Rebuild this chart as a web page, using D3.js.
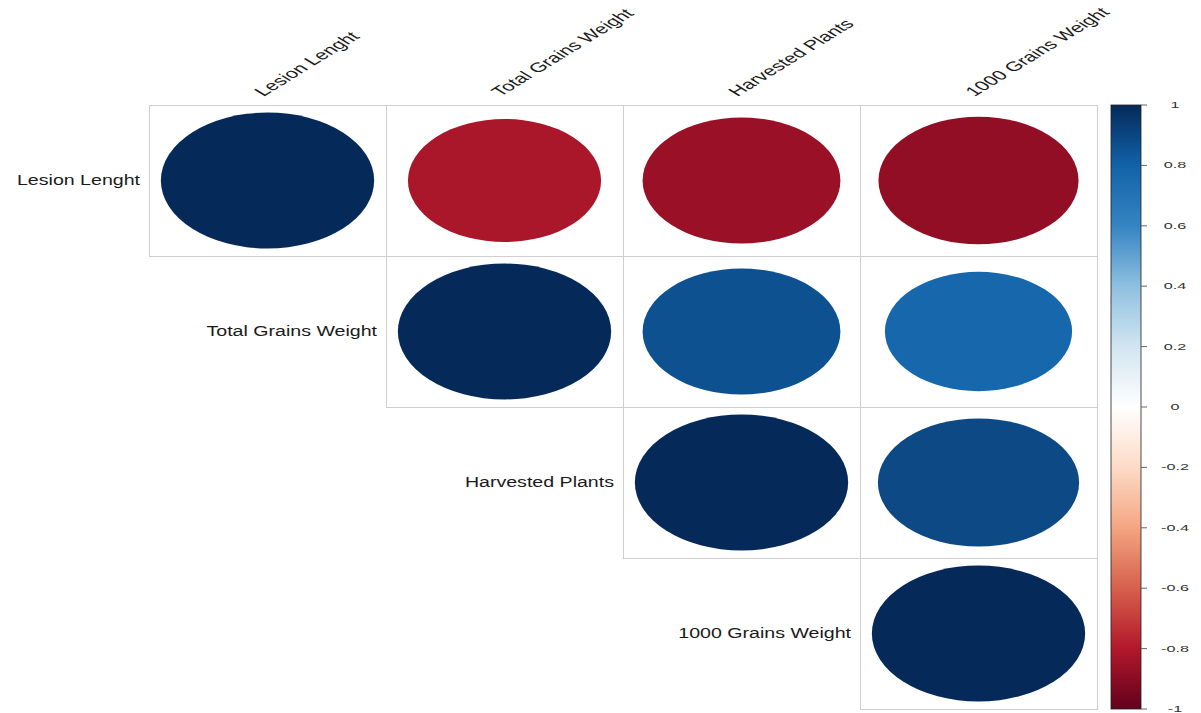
<!DOCTYPE html>
<html>
<head>
<meta charset="utf-8">
<script src="https://cdn.jsdelivr.net/npm/d3@7"></script>
<style>
  html, body { margin: 0; padding: 0; background: #ffffff; }
  svg { display: block; }
  text { font-family: "Liberation Sans", Arial, sans-serif; }
</style>
</head>
<body>
<svg id="chart" width="1201" height="713"></svg>
<script>
// ---- data ----
const variables = ["Lesion Lenght", "Total Grains Weight", "Harvested Plants", "1000 Grains Weight"];
// upper-triangle correlation rows (null = not drawn)
const corrLesionLenght      = [1, -0.82, -0.86, -0.88];
const corrTotalGrainsWeight = [null, 1, 0.86, 0.77];
const corrHarvestedPlants   = [null, null, 1, 0.89];
const corr1000GrainsWeight  = [null, null, null, 1];
const legendTicks = [-1, -0.8, -0.6, -0.4, -0.2, 0, 0.2, 0.4, 0.6, 0.8, 1];
const paletteStops = [-1, -0.8, -0.6, -0.4, -0.2, 0, 0.2, 0.4, 0.6, 0.8, 1];
const paletteColors = ["#62001C", "#B2182B", "#D6604D", "#F4A582", "#FDDBC7", "#FFFFFF",
                       "#D1E5F0", "#8FC0E0", "#3584C2", "#1262A8", "#052A5A"];

const rows = [corrLesionLenght, corrTotalGrainsWeight, corrHarvestedPlants, corr1000GrainsWeight];
const cells = [];
rows.forEach((r, i) => r.forEach((v, j) => { if (v !== null) cells.push({row: variables[i], col: variables[j], i, j, v}); }));

const svg = d3.select("#chart");

const x = d3.scaleBand().domain(variables).range([149, 1097]);
const y = d3.scaleBand().domain(variables).range([105, 709]);
const color = d3.scaleLinear().domain(paletteStops).range(paletteColors).interpolate(d3.interpolateRgb);
const size = d3.scaleSqrt().domain([0, 1]).range([0, 0.9]);

// cell borders
svg.append("g").selectAll("rect").data(cells).join("rect")
  .attr("x", d => x(d.col) + 0.5)
  .attr("y", d => y(d.row) + 0.5)
  .attr("width", x.bandwidth())
  .attr("height", y.bandwidth())
  .attr("fill", "none")
  .attr("stroke", "#cfcfcf")
  .attr("stroke-width", 1);

// ellipses (circles stretched to the cell aspect)
svg.append("g").selectAll("ellipse").data(cells).join("ellipse")
  .attr("cx", d => x(d.col) + x.bandwidth() / 2)
  .attr("cy", d => y(d.row) + y.bandwidth() / 2)
  .attr("rx", d => size(Math.abs(d.v)) * x.bandwidth() / 2)
  .attr("ry", d => size(Math.abs(d.v)) * y.bandwidth() / 2)
  .attr("fill", d => color(d.v));

// row labels
svg.append("g").selectAll("text").data(variables).join("text")
  .attr("transform", d => `translate(${x(d) - 9},${y(d) + y.bandwidth() / 2}) scale(1.4,1)`)
  .attr("text-anchor", "end")
  .attr("dominant-baseline", "central")
  .attr("font-size", 14)
  .attr("fill", "#1a1a1a")
  .text(d => d);

// column labels
svg.append("g").selectAll("text").data(variables).join("text")
  .attr("transform", d => `translate(${x(d) + x.bandwidth() / 2 - 4},97) scale(1.56,0.96) rotate(-45)`)
  .attr("text-anchor", "start")
  .attr("font-size", 14)
  .attr("fill", "#1a1a1a")
  .text(d => d);

// colour legend
const cb = d3.scaleLinear().domain([-1, 1]).range([709, 105]);
const defs = svg.append("defs");
const grad = defs.append("linearGradient").attr("id", "cbgrad")
  .attr("x1", 0).attr("y1", 1).attr("x2", 0).attr("y2", 0);
grad.selectAll("stop").data(paletteStops).join("stop")
  .attr("offset", d => (d + 1) / 2)
  .attr("stop-color", d => color(d));

svg.append("rect")
  .attr("x", 1111).attr("y", cb(1))
  .attr("width", 30).attr("height", cb(-1) - cb(1))
  .attr("fill", "url(#cbgrad)")
  .attr("stroke", "#222").attr("stroke-width", 0.8);

const lg = svg.append("g");
lg.selectAll("line").data(legendTicks).join("line")
  .attr("x1", 1141).attr("x2", 1147)
  .attr("y1", d => cb(d)).attr("y2", d => cb(d))
  .attr("stroke", "#666").attr("stroke-width", 1);
lg.selectAll("text").data(legendTicks).join("text")
  .attr("transform", d => `translate(1175,${cb(d)}) scale(1.8,1)`)
  .attr("text-anchor", "middle")
  .attr("dominant-baseline", "central")
  .attr("font-size", 9)
  .attr("fill", "#333")
  .text(d => String(d));
</script>
</body>
</html>
